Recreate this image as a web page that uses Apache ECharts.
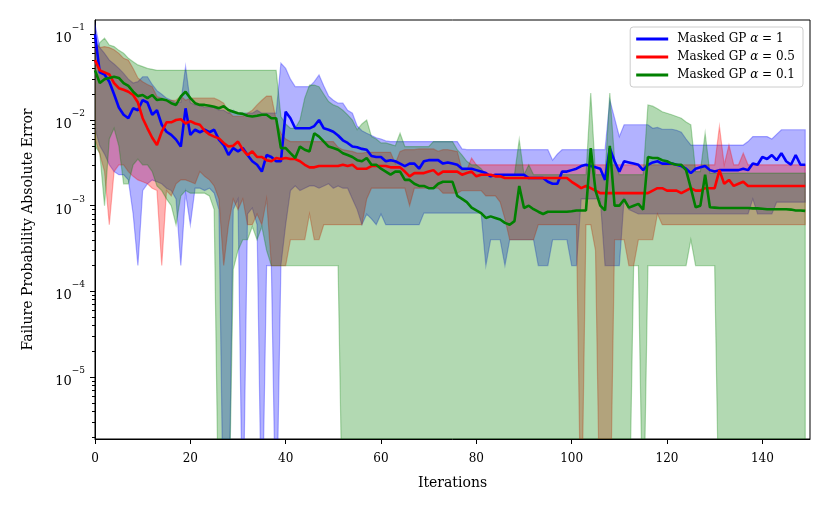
<!DOCTYPE html>
<html>
<head>
<meta charset="utf-8">
<title>Failure probability error</title>
<script src="https://cdn.jsdelivr.net/npm/echarts@6.0.0/dist/echarts.min.js"></script>
<style>
  html, body { margin: 0; padding: 0; background: #fff; }
  #chart { width: 830px; height: 513px; }
</style>
</head>
<body>
<div id="chart"></div>
<script>
// median error per iteration, one value per iteration 0..149
var blueMedian = [
  0.1, 0.036, 0.034, 0.028, 0.02, 0.014, 0.0115, 0.0105, 0.0137, 0.013,
  0.0171, 0.016, 0.0115, 0.013, 0.0088, 0.0073, 0.0067, 0.0059, 0.0049, 0.0137,
  0.0067, 0.0077, 0.0072, 0.0077, 0.0072, 0.0077, 0.0059, 0.0051, 0.0039, 0.0047,
  0.0043, 0.0047, 0.0039, 0.0033, 0.003, 0.0025, 0.0039, 0.0037, 0.0033, 0.0033,
  0.0125, 0.0105, 0.008, 0.008, 0.008, 0.008, 0.0085, 0.01, 0.008, 0.0077,
  0.0073, 0.0066, 0.0058, 0.0054, 0.0049, 0.0048, 0.0046, 0.0045, 0.0038, 0.0037,
  0.0037, 0.0033, 0.0034, 0.0033, 0.0031, 0.0029, 0.0031, 0.0031, 0.0027, 0.0033,
  0.0034, 0.0034, 0.0034, 0.0031, 0.0032, 0.0031, 0.003, 0.0027, 0.0027, 0.0027,
  0.0026, 0.0025, 0.0024, 0.0022, 0.0023, 0.0023, 0.0023, 0.0023, 0.0023, 0.0023,
  0.0023, 0.0021, 0.0021, 0.0021, 0.0021, 0.0019, 0.0018, 0.0018, 0.0025, 0.0025,
  0.0026, 0.0027, 0.0029, 0.003, 0.0029, 0.0028, 0.0027, 0.002, 0.0047, 0.0033,
  0.0025, 0.0033, 0.0032, 0.0031, 0.003, 0.0026, 0.003, 0.0032, 0.0033, 0.0031,
  0.0031, 0.0031, 0.003, 0.0029, 0.0027, 0.0024, 0.0027, 0.0028, 0.0029, 0.0026,
  0.0025, 0.0026, 0.0026, 0.0026, 0.0026, 0.0026, 0.0027, 0.0026, 0.0031, 0.003,
  0.0037, 0.0035, 0.0039, 0.0034, 0.0041, 0.0033, 0.003, 0.0039, 0.003, 0.003
]
var blueUpper = [
  0.13, 0.07, 0.06, 0.05, 0.045, 0.04, 0.035, 0.03, 0.027, 0.028,
  0.032, 0.032, 0.026, 0.022, 0.02, 0.018, 0.017, 0.016, 0.016, 0.042,
  0.016, 0.015, 0.015, 0.014, 0.014, 0.014, 0.013, 0.013, 0.012, 0.013,
  0.012, 0.012, 0.012, 0.012, 0.013, 0.012, 0.012, 0.012, 0.012, 0.046,
  0.04, 0.03, 0.0245, 0.0245, 0.0245, 0.0245, 0.028, 0.0335, 0.025, 0.019,
  0.017, 0.0157, 0.0157, 0.013, 0.012, 0.0085, 0.0075, 0.007, 0.0066, 0.0062,
  0.006, 0.0057, 0.0056, 0.0056, 0.0056, 0.0056, 0.0056, 0.0056, 0.0056, 0.0056,
  0.0056, 0.0056, 0.0056, 0.0056, 0.0056, 0.0056, 0.0056, 0.0046, 0.0045, 0.0045,
  0.0045, 0.0045, 0.0045, 0.0045, 0.0045, 0.0045, 0.0045, 0.0045, 0.0045, 0.0045,
  0.0045, 0.0045, 0.0045, 0.0045, 0.0045, 0.0045, 0.0034, 0.004, 0.0045, 0.0045,
  0.0045, 0.0045, 0.0045, 0.0045, 0.0045, 0.0045, 0.0045, 0.0045, 0.0171, 0.0105,
  0.0064, 0.0088, 0.0088, 0.0088, 0.0088, 0.0088, 0.0088, 0.008, 0.0082, 0.0078,
  0.0078, 0.0078, 0.0076, 0.0072, 0.006, 0.0051, 0.0051, 0.0051, 0.0051, 0.0051,
  0.0051, 0.0051, 0.0051, 0.0051, 0.0051, 0.0051, 0.0051, 0.0056, 0.0064, 0.0064,
  0.0064, 0.0064, 0.006, 0.0068, 0.0077, 0.0077, 0.0077, 0.0077, 0.0077, 0.0077
]
// 1e-7 stands for a zero error (drawn off the bottom of the log axis)
var blueLower = [
  0.008, 0.005, 0.004, 0.003, 0.0025, 0.0023, 0.0023, 0.002, 0.0008, 0.0002,
  0.0015, 0.0018, 0.002, 0.0019, 0.0018, 0.0016, 0.0015, 0.0012, 0.0002, 0.0014,
  0.0006, 0.0016, 0.0016, 0.0015, 0.0016, 0.0014, 0.0009, 1e-7, 1e-7, 0.0009,
  0.0012, 1e-7, 0.0008, 0.00094, 0.0006, 1e-7, 0.0002, 0.0002, 1e-7, 0.0002,
  0.0006, 0.0015, 0.0017, 0.0015, 0.0016, 0.0017, 0.0017, 0.0016, 0.0017, 0.0018,
  0.0016, 0.0017, 0.0016, 0.0016, 0.0012, 0.0009, 0.0006, 0.0008, 0.0007, 0.0006,
  0.0008, 0.0006, 0.0006, 0.0006, 0.0006, 0.0006, 0.0006, 0.0006, 0.0006, 0.00082,
  0.00082, 0.00082, 0.00082, 0.00082, 0.00082, 0.00082, 0.00082, 0.00082, 0.00082, 0.00082,
  0.00082, 0.00082, 0.0002, 0.0004, 0.0004, 0.0004, 0.0002, 0.0004, 0.0004, 0.0004,
  0.0004, 0.0004, 0.0004, 0.0002, 0.0002, 0.0002, 0.0004, 0.0004, 0.0004, 0.0004,
  0.0002, 0.0002, 0.0012, 0.0012, 0.0012, 0.0012, 0.0012, 0.0002, 0.0002, 0.0002,
  0.0002, 0.0012, 0.0009, 0.00085, 0.0008, 0.0008, 0.0008, 0.0008, 0.0008, 0.0008,
  0.0008, 0.0008, 0.0008, 0.0008, 0.0008, 0.0008, 0.0008, 0.0008, 0.0008, 0.0008,
  0.0008, 0.0008, 0.0008, 0.0008, 0.0008, 0.0008, 0.0008, 0.0008, 0.0012, 0.0008,
  0.0008, 0.0008, 0.0008, 0.0011, 0.0011, 0.0011, 0.0011, 0.0011, 0.0011, 0.0011
]

var redMedian = [
  0.05, 0.038, 0.036, 0.034, 0.027, 0.0235, 0.0225, 0.0214, 0.0196, 0.016,
  0.0105, 0.008, 0.0062, 0.0051, 0.0073, 0.0094, 0.0094, 0.01, 0.0102, 0.0091,
  0.0097, 0.0091, 0.0088, 0.0075, 0.0068, 0.0064, 0.0061, 0.0054, 0.0049, 0.005,
  0.0056, 0.0045, 0.0039, 0.0043, 0.0037, 0.0037, 0.0034, 0.0033, 0.0036, 0.0035,
  0.0036, 0.0035, 0.0035, 0.0033, 0.003, 0.0028, 0.0028, 0.0029, 0.0029, 0.0029,
  0.0029, 0.0029, 0.003, 0.0029, 0.003, 0.0027, 0.0027, 0.0027, 0.0029, 0.0029,
  0.0029, 0.0029, 0.0028, 0.0028, 0.0028, 0.0025, 0.0022, 0.0024, 0.0024, 0.0024,
  0.0025, 0.0026, 0.0023, 0.0025, 0.0025, 0.0025, 0.0025, 0.0023, 0.0024, 0.0025,
  0.0022, 0.0023, 0.0023, 0.0023, 0.0022, 0.0022, 0.0021, 0.0021, 0.0021, 0.0021,
  0.0021, 0.0021, 0.0021, 0.0021, 0.0021, 0.0021, 0.0021, 0.0021, 0.0021, 0.0021,
  0.0019, 0.00175, 0.0016, 0.0017, 0.0016, 0.0015, 0.0014, 0.0014, 0.0014, 0.0014,
  0.0014, 0.0014, 0.0014, 0.0014, 0.0014, 0.0014, 0.0014, 0.0015, 0.0016, 0.0016,
  0.0015, 0.0015, 0.0015, 0.0014, 0.0015, 0.0016, 0.0015, 0.0015, 0.0016, 0.0016,
  0.0016, 0.0026, 0.0018, 0.002, 0.0017, 0.0018, 0.0019, 0.0017, 0.0017, 0.0017,
  0.0017, 0.0017, 0.0017, 0.0017, 0.0017, 0.0017, 0.0017, 0.0017, 0.0017, 0.0017
]
var redUpper = [
  0.08, 0.07, 0.072, 0.07, 0.066, 0.06, 0.0525, 0.05, 0.04, 0.031,
  0.028, 0.026, 0.0245, 0.0188, 0.018, 0.017, 0.017, 0.017, 0.019, 0.017,
  0.018, 0.018, 0.018, 0.018, 0.018, 0.018, 0.017, 0.0157, 0.0125, 0.011,
  0.011, 0.011, 0.012, 0.013, 0.015, 0.017, 0.019, 0.019, 0.01, 0.007,
  0.006, 0.0056, 0.0056, 0.0056, 0.0056, 0.0056, 0.0056, 0.0056, 0.0056, 0.0056,
  0.0056, 0.0048, 0.0045, 0.0044, 0.0043, 0.0041, 0.0041, 0.0042, 0.0042, 0.0042,
  0.0042, 0.0042, 0.0042, 0.0031, 0.0043, 0.0045, 0.0045, 0.0045, 0.0046, 0.0046,
  0.0046, 0.0046, 0.0043, 0.0045, 0.0045, 0.0044, 0.0043, 0.0026, 0.0026, 0.0036,
  0.003, 0.003, 0.003, 0.003, 0.003, 0.003, 0.003, 0.003, 0.003, 0.003,
  0.003, 0.003, 0.003, 0.003, 0.003, 0.003, 0.003, 0.003, 0.003, 0.003,
  0.003, 0.003, 0.003, 0.003, 0.003, 0.003, 0.003, 0.003, 0.003, 0.003,
  0.003, 0.003, 0.003, 0.003, 0.003, 0.003, 0.003, 0.003, 0.003, 0.003,
  0.003, 0.003, 0.003, 0.003, 0.003, 0.003, 0.003, 0.003, 0.003, 0.003,
  0.003, 0.0084, 0.003, 0.0051, 0.003, 0.003, 0.0041, 0.003, 0.003, 0.003,
  0.003, 0.003, 0.003, 0.003, 0.003, 0.003, 0.003, 0.003, 0.003, 0.003
]
var redLower = [
  0.006, 0.004, 0.0025, 0.0006, 0.0025, 0.003, 0.003, 0.0025, 0.0022, 0.002,
  0.0019, 0.0018, 0.0016, 0.0015, 0.0002, 0.0015, 0.0013, 0.0018, 0.002, 0.002,
  0.0019, 0.0018, 0.0025, 0.0022, 0.002, 0.0017, 0.0012, 0.0002, 0.0006, 0.0012,
  0.0009, 0.0012, 0.0006, 0.0006, 0.0008, 0.0006, 0.0012, 0.0002, 0.0002, 0.0002,
  0.0002, 0.0004, 0.0004, 0.0004, 0.0004, 0.0008, 0.0004, 0.0004, 0.0006, 0.0006,
  0.0006, 0.0006, 0.0006, 0.0006, 0.0006, 0.0006, 0.0006, 0.0012, 0.0016, 0.0016,
  0.0016, 0.0016, 0.0016, 0.0016, 0.0016, 0.0016, 0.001, 0.0016, 0.0016, 0.0016,
  0.0016, 0.0016, 0.0016, 0.0014, 0.0014, 0.0014, 0.0014, 0.0015, 0.0015, 0.0015,
  0.0015, 0.0015, 0.0013, 0.0013, 0.0013, 0.0011, 0.0007, 0.0004, 0.0004, 0.0004,
  0.0004, 0.0004, 0.0004, 0.0006, 0.0006, 0.0006, 0.0006, 0.0006, 0.0006, 0.0006,
  0.0006, 0.0006, 1e-7, 0.0006, 0.0006, 0.0003, 1e-7, 1e-7, 1e-7, 0.0004,
  0.0004, 0.0004, 0.0002, 0.0002, 0.0004, 0.0004, 0.0004, 0.0004, 0.0008, 0.0006,
  0.0006, 0.0006, 0.0006, 0.0006, 0.0006, 0.0006, 0.0006, 0.0006, 0.0006, 0.0006,
  0.0006, 0.0006, 0.0006, 0.0006, 0.0006, 0.0006, 0.0006, 0.0006, 0.0006, 0.0006,
  0.0006, 0.0006, 0.0006, 0.0006, 0.0006, 0.0006, 0.0006, 0.0006, 0.0006, 0.0006
]

var greenMedian = [
  0.038, 0.027, 0.03, 0.031, 0.032, 0.031, 0.027, 0.025, 0.0214, 0.019,
  0.0196, 0.018, 0.0196, 0.0171, 0.0175, 0.017, 0.0157, 0.015, 0.0188, 0.0214,
  0.018, 0.0157, 0.015, 0.015, 0.0147, 0.0143, 0.0137, 0.0145, 0.0131, 0.0125,
  0.012, 0.0118, 0.0112, 0.011, 0.0112, 0.0115, 0.0115, 0.0105, 0.0105, 0.0047,
  0.0047, 0.0041, 0.0036, 0.0049, 0.0045, 0.0043, 0.007, 0.0064, 0.0056, 0.0049,
  0.0047, 0.0045, 0.0041, 0.0039, 0.0037, 0.0034, 0.0033, 0.0036, 0.003, 0.003,
  0.0027, 0.0025, 0.0023, 0.0025, 0.0025, 0.002, 0.002, 0.0018, 0.0017, 0.0017,
  0.0016, 0.0016, 0.0018, 0.0019, 0.0019, 0.0019, 0.0013, 0.0012, 0.0011, 0.00095,
  0.00088, 0.00082, 0.00072, 0.00075, 0.00072, 0.00069, 0.00063, 0.0006, 0.00066, 0.0017,
  0.00094, 0.001, 0.00091, 0.00085, 0.0008, 0.00085, 0.00085, 0.00085, 0.00085, 0.00085,
  0.00086, 0.00088, 0.00088, 0.00088, 0.0047, 0.0015, 0.001, 0.00088, 0.005, 0.001,
  0.001, 0.00118, 0.00095, 0.001, 0.00105, 0.0009, 0.0037, 0.0036, 0.0036, 0.0034,
  0.0033, 0.0031, 0.003, 0.003, 0.0026, 0.0016, 0.00096, 0.001, 0.0023, 0.00096,
  0.00095, 0.00094, 0.00094, 0.00094, 0.00094, 0.00094, 0.00094, 0.00094, 0.00093, 0.00093,
  0.00092, 0.00091, 0.00091, 0.00091, 0.00091, 0.00091, 0.0009, 0.00088, 0.00088, 0.00087
]
var greenUpper = [
  0.06, 0.08, 0.09, 0.075, 0.072, 0.065, 0.06, 0.0525, 0.048, 0.044,
  0.042, 0.04, 0.039, 0.038, 0.038, 0.038, 0.038, 0.038, 0.038, 0.038,
  0.038, 0.038, 0.038, 0.038, 0.038, 0.038, 0.038, 0.038, 0.038, 0.038,
  0.038, 0.038, 0.038, 0.038, 0.038, 0.038, 0.038, 0.038, 0.038, 0.011,
  0.009, 0.008, 0.008, 0.01, 0.018, 0.0256, 0.0256, 0.0245, 0.02, 0.0164,
  0.015, 0.0143, 0.013, 0.0115, 0.01, 0.0077, 0.009, 0.01, 0.0064, 0.006,
  0.0054, 0.0054, 0.0052, 0.005, 0.007, 0.0049, 0.0049, 0.0049, 0.0049, 0.0049,
  0.0049, 0.0056, 0.0056, 0.0056, 0.0056, 0.0056, 0.0045, 0.0039, 0.0033, 0.003,
  0.003, 0.0027, 0.0023, 0.0023, 0.0023, 0.0023, 0.0023, 0.0023, 0.0023, 0.0059,
  0.0023, 0.003, 0.0023, 0.0023, 0.0023, 0.0023, 0.0023, 0.0023, 0.0023, 0.0023,
  0.0023, 0.0023, 0.0023, 0.0023, 0.0206, 0.0023, 0.0023, 0.0023, 0.0206, 0.0035,
  0.0023, 0.0023, 0.0023, 0.0023, 0.0023, 0.0023, 0.015, 0.0145, 0.0135, 0.0125,
  0.012, 0.0115, 0.011, 0.0105, 0.0095, 0.0088, 0.0025, 0.0025, 0.007, 0.0024,
  0.0024, 0.0024, 0.0024, 0.0024, 0.0024, 0.0024, 0.0024, 0.0024, 0.0024, 0.0024,
  0.0024, 0.0024, 0.0024, 0.0024, 0.0024, 0.0024, 0.0024, 0.0024, 0.0024, 0.0024
]
var greenLower = [
  0.005, 0.0041, 0.001, 0.006, 0.008, 0.005, 0.0018, 0.0018, 0.003, 0.0035,
  0.003, 0.003, 0.0025, 0.0017, 0.0015, 0.0012, 0.001, 0.0006, 0.0013, 0.0015,
  0.0014, 0.0014, 0.0014, 0.0014, 0.0013, 0.0009, 1e-7, 1e-7, 1e-7, 0.00018,
  0.0003, 0.0004, 0.0004, 0.00057, 0.0004, 0.00057, 0.0003, 0.0002, 0.0002, 0.0002,
  0.0002, 0.0002, 0.0002, 0.0002, 0.0002, 0.0002, 0.0002, 0.0002, 0.0002, 0.0002,
  0.0002, 0.0002, 1e-7, 1e-7, 1e-7, 1e-7, 1e-7, 1e-7, 1e-7, 1e-7,
  1e-7, 1e-7, 1e-7, 1e-7, 1e-7, 1e-7, 1e-7, 1e-7, 1e-7, 1e-7,
  1e-7, 1e-7, 1e-7, 1e-7, 1e-7, 1e-7, 1e-7, 1e-7, 1e-7, 1e-7,
  1e-7, 1e-7, 1e-7, 1e-7, 1e-7, 1e-7, 1e-7, 1e-7, 1e-7, 1e-7,
  1e-7, 1e-7, 1e-7, 1e-7, 1e-7, 1e-7, 1e-7, 1e-7, 1e-7, 1e-7,
  1e-7, 1e-7, 1e-7, 1e-7, 1e-7, 1e-7, 1e-7, 1e-7, 1e-7, 1e-7,
  1e-7, 1e-7, 1e-7, 0.0002, 0.0002, 1e-7, 0.0002, 0.0002, 0.0002, 0.0002,
  0.0002, 0.0002, 0.0002, 0.0002, 0.0002, 0.0004, 0.0002, 0.0002, 0.0002, 0.0002,
  0.0002, 1e-7, 1e-7, 1e-7, 1e-7, 1e-7, 1e-7, 1e-7, 1e-7, 1e-7,
  1e-7, 1e-7, 1e-7, 1e-7, 1e-7, 1e-7, 1e-7, 1e-7, 1e-7, 1e-7
]

var seriesNames = ['Masked GP α = 1', 'Masked GP α = 0.5', 'Masked GP α = 0.1']
var xTicks = [0, 20, 40, 60, 80, 100, 120, 140]
var yMajorTicks = [1e-5, 1e-4, 1e-3, 1e-2, 1e-1]
var yDecades = [1e-6, 1e-5, 1e-4, 1e-3, 1e-2]
var yMantissas = [2, 3, 4, 5, 6, 7, 8, 9]

var FONT = 'DejaVu Serif'
var COLORS = {
  blue: [0, 0, 255],
  red: [255, 0, 0],
  green: [0, 128, 0]
}

function rgba(c, a) {
  return 'rgba(' + c[0] + ',' + c[1] + ',' + c[2] + ',' + a + ')'
}

function pairs(values) {
  return values.map(function (v, i) { return [i, v] })
}

// shaded min/max band, drawn as one polygon (upper edge, then lower edge back)
function band(key, lower, upper, color) {
  var rows = lower.map(function (lo, i) { return [i, lo, upper[i]] })
  return {
    name: key + '-band',
    type: 'custom',
    data: rows,
    encode: { x: 0, y: [1, 2] },
    clip: true,
    silent: true,
    z: 1,
    renderItem: function (params, api) {
      if (params.dataIndexInside !== 0) return null
      var top = []
      var bottom = []
      for (var j = 0; j < params.dataInsideLength; j++) {
        top.push(api.coord([api.value(0, j), api.value(2, j)]))
        bottom.push(api.coord([api.value(0, j), api.value(1, j)]))
      }
      return {
        type: 'polygon',
        shape: { points: top.concat(bottom.reverse()) },
        style: { fill: rgba(color, 0.3), stroke: rgba(color, 0.3), lineWidth: 1.2 }
      }
    }
  }
}

function median(name, values, color) {
  return {
    name: name,
    type: 'line',
    data: pairs(values),
    symbol: 'none',
    lineStyle: { color: rgba(color, 1), width: 2.6 },
    itemStyle: { color: rgba(color, 1) },
    z: 3
  }
}

var yMinorTicks = []
yDecades.forEach(function (d) {
  yMantissas.forEach(function (m) { yMinorTicks.push(m * d) })
})

var chart = echarts.init(document.getElementById('chart'))

var option = {
  animation: false,
  backgroundColor: '#fff',
  grid: {
    left: 95, right: 20, top: 20, bottom: 74,
    show: true, borderColor: '#000', borderWidth: 1, backgroundColor: 'transparent'
  },
  legend: {
    data: seriesNames,
    orient: 'vertical',
    right: 27,
    top: 27,
    icon: 'rect',
    itemWidth: 32,
    itemHeight: 3,
    itemGap: 6,
    padding: [6, 8, 6, 6],
    backgroundColor: 'rgba(255,255,255,0.8)',
    borderColor: '#cccccc',
    borderWidth: 1,
    borderRadius: 3,
    formatter: function (name) {
      var parts = name.split('α')
      return '{t|' + parts[0] + '}{a|α}{t|' + parts[1] + '}'
    },
    textStyle: {
      padding: [0, 0, 0, 4],
      rich: {
        t: { fontFamily: FONT, fontSize: 12, color: '#000' },
        a: { fontFamily: FONT, fontSize: 12, color: '#000', fontStyle: 'italic' }
      }
    }
  },
  xAxis: {
    type: 'value',
    min: 0,
    max: 150,
    name: 'Iterations',
    nameLocation: 'middle',
    nameGap: 37,
    nameTextStyle: { fontFamily: FONT, fontSize: 14, color: '#000' },
    axisLine: { lineStyle: { color: '#000', width: 1 } },
    axisTick: { customValues: xTicks, length: 5, lineStyle: { color: '#000', width: 1 } },
    axisLabel: { customValues: xTicks, fontFamily: FONT, fontSize: 12, color: '#000', margin: 14 },
    splitLine: { show: false }
  },
  yAxis: [
    {
      type: 'log',
      position: 'left',
      min: 1.89e-6,
      max: 0.147,
      name: 'Failure Probability Absolute Error',
      nameLocation: 'middle',
      nameGap: 60,
      nameTextStyle: { fontFamily: FONT, fontSize: 14, color: '#000' },
      axisLine: { show: true, lineStyle: { color: '#000', width: 1 } },
      axisTick: { customValues: yMajorTicks, length: 5, lineStyle: { color: '#000', width: 1 } },
      axisLabel: {
        customValues: yMajorTicks,
        margin: 10,
        formatter: function (v) {
          var e = Math.round(Math.log10(v))
          return '{b|10}{e|−' + Math.abs(e) + '}'
        },
        rich: {
          b: { fontFamily: FONT, fontSize: 13, color: '#000', lineHeight: 22, verticalAlign: 'bottom' },
          e: { fontFamily: FONT, fontSize: 9, color: '#000', lineHeight: 10, verticalAlign: 'top' }
        }
      },
      splitLine: { show: false }
    },
    {
      type: 'log',
      position: 'left',
      min: 1.89e-6,
      max: 0.147,
      axisLine: { show: false },
      axisTick: { customValues: yMinorTicks, length: 3, lineStyle: { color: '#000', width: 1 } },
      axisLabel: { show: false },
      splitLine: { show: false }
    }
  ],
  series: [
    band('blue', blueLower, blueUpper, COLORS.blue),
    band('red', redLower, redUpper, COLORS.red),
    band('green', greenLower, greenUpper, COLORS.green),
    median(seriesNames[0], blueMedian, COLORS.blue),
    median(seriesNames[1], redMedian, COLORS.red),
    median(seriesNames[2], greenMedian, COLORS.green)
  ]
}

chart.setOption(option)
</script>
</body>
</html>
